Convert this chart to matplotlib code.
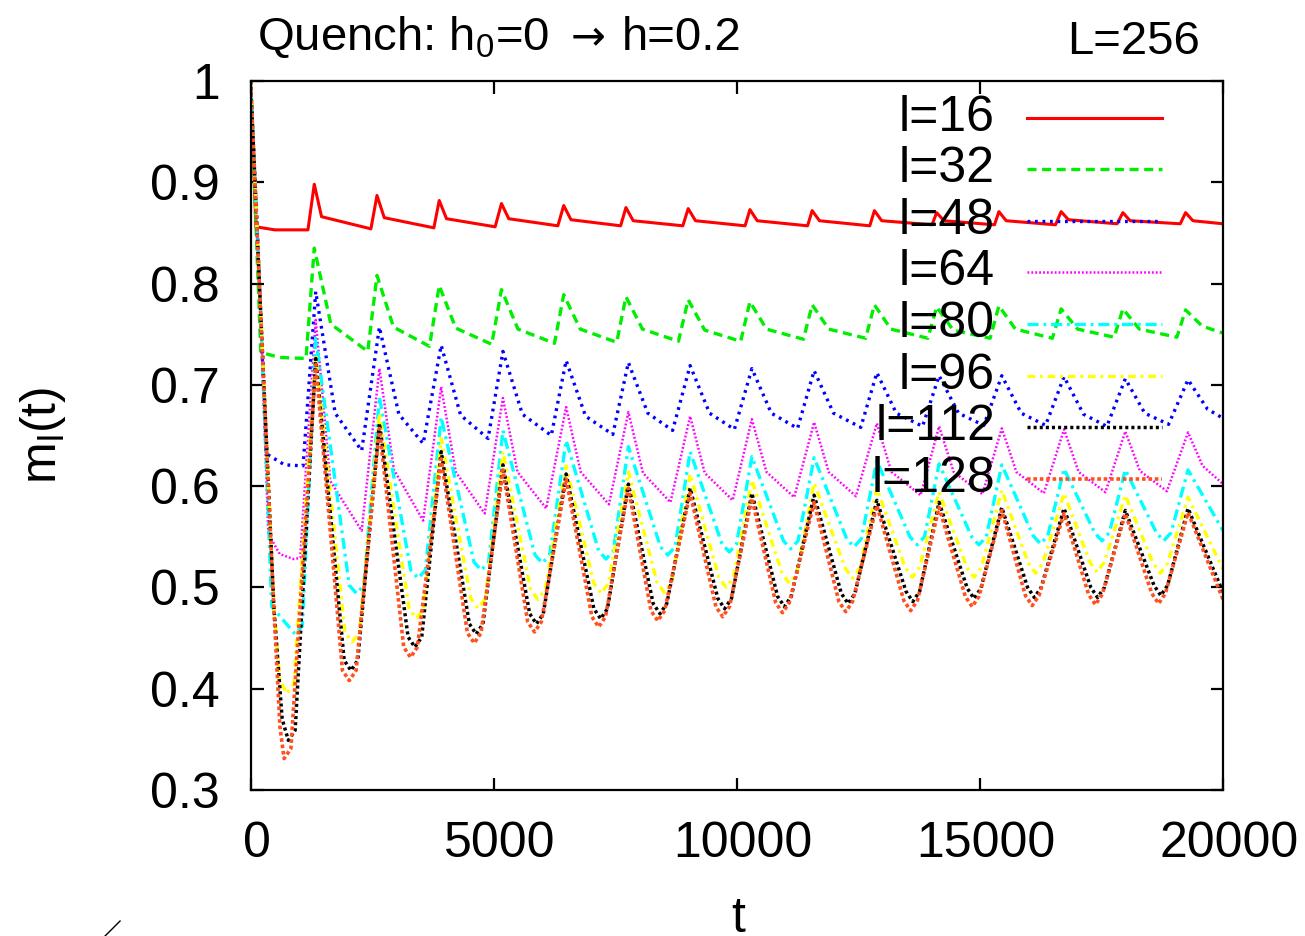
import matplotlib
matplotlib.use('Agg')
from matplotlib import pyplot as plt
from matplotlib.lines import Line2D
from matplotlib.transforms import ScaledTranslation

plt.rcParams['font.family'] = ['Liberation Sans', 'DejaVu Sans']
plt.rcParams['mathtext.fontset'] = 'custom'
plt.rcParams['mathtext.rm'] = 'Liberation Sans'
plt.rcParams['mathtext.it'] = 'Liberation Sans'
plt.rcParams['lines.scale_dashes'] = False

# peak times
t_peak_a = [1310, 2600, 3880, 5160, 6440, 7720, 9000, 10270, 11550, 12830, 14110, 15390, 16670, 17940, 19230]
t_peak_b = [1340, 2650, 3920, 5190, 6490, 7770, 9040, 10310, 11590, 12880, 14160, 15450, 16730, 17990, 19280]

# l=16
init16 = [(0, 1.0), (110, 0.856), (500, 0.853)]
low16_t = [1180, 2475, 3770, 5030, 6320, 7610, 8890, 10170, 11455, 12735, 14015, 15300, 16555, 17820, 19120]
low16 = [0.853, 0.854, 0.855, 0.856, 0.857, 0.857, 0.857, 0.857, 0.857, 0.857, 0.858, 0.858, 0.858, 0.859, 0.859]
peak16 = [0.898, 0.887, 0.882, 0.879, 0.877, 0.875, 0.874, 0.873, 0.872, 0.872, 0.870, 0.871, 0.871, 0.870, 0.870]
knee16 = [0.866, 0.865, 0.864, 0.864, 0.863, 0.862, 0.862, 0.862, 0.862, 0.862, 0.862, 0.862, 0.863, 0.862, 0.862]
end16 = 0.859

# l=32
init32 = [(0, 1.0), (210, 0.732), (600, 0.727)]
low32_t = [1140, 2410, 3680, 4960, 6250, 7530, 8800, 10080, 11370, 12650, 13930, 15210, 16490, 17760, 19050]
low32 = [0.726, 0.733, 0.738, 0.740, 0.741, 0.742, 0.743, 0.743, 0.745, 0.746, 0.746, 0.746, 0.746, 0.747, 0.747]
peak32 = [0.835, 0.808, 0.798, 0.794, 0.789, 0.787, 0.784, 0.782, 0.779, 0.779, 0.777, 0.778, 0.775, 0.775, 0.774]
knee32 = [0.760, 0.757, 0.756, 0.755, 0.755, 0.755, 0.754, 0.755, 0.755, 0.755, 0.754, 0.755, 0.755, 0.755, 0.758]
end32 = 0.751

# l=48
init48 = [(0, 1.0), (150, 0.84), (320, 0.632), (700, 0.621)]
low48_t = [1080, 2285, 3550, 4885, 6185, 7450, 8680, 9950, 11250, 12550, 13820, 15080, 16350, 17610, 18880]
low48 = [0.620, 0.635, 0.642, 0.647, 0.650, 0.651, 0.655, 0.656, 0.657, 0.658, 0.659, 0.660, 0.660, 0.659, 0.661]
peak48 = [0.792, 0.757, 0.739, 0.733, 0.724, 0.722, 0.719, 0.716, 0.714, 0.712, 0.709, 0.709, 0.708, 0.706, 0.705]
knee48 = [0.672, 0.671, 0.670, 0.671, 0.669, 0.672, 0.672, 0.672, 0.672, 0.672, 0.672, 0.672, 0.671, 0.672, 0.676]
end48 = 0.667

# l=64
init64 = [(0, 1.0), (200, 0.78), (365, 0.553), (600, 0.533), (880, 0.528)]
low64_t = [1020, 2285, 3550, 4815, 6080, 7370, 8635, 9915, 11180, 12450, 13780, 15050, 16315, 17580, 18845]
low64 = [0.529, 0.556, 0.566, 0.573, 0.578, 0.582, 0.584, 0.586, 0.589, 0.590, 0.591, 0.592, 0.593, 0.594, 0.595]
peak64 = [0.764, 0.716, 0.698, 0.687, 0.678, 0.673, 0.669, 0.666, 0.663, 0.662, 0.659, 0.657, 0.656, 0.654, 0.653]
knee64 = [0.605, 0.616, 0.614, 0.614, 0.614, 0.613, 0.613, 0.614, 0.614, 0.614, 0.614, 0.614, 0.614, 0.615, 0.620]
end64 = 0.602

# l=80
init80 = [(0, 1.0), (200, 0.78), (435, 0.481)]
min80_t = [915, 2180, 3445, 4745, 6000, 7310, 8580, 9845, 11110, 12410, 13710, 14980, 16245, 17510, 18780]
min80 = [0.454, 0.494, 0.509, 0.517, 0.524, 0.528, 0.532, 0.535, 0.538, 0.540, 0.542, 0.542, 0.543, 0.546, 0.546]
peak80 = [0.746, 0.688, 0.668, 0.655, 0.645, 0.639, 0.634, 0.629, 0.628, 0.625, 0.622, 0.621, 0.617, 0.616, 0.616]
end80 = 0.556

# l=96
init96 = [(0, 1.0), (200, 0.78), (480, 0.48), (600, 0.41)]
min96_t = [740, 2090, 3410, 4680, 5910, 7210, 8510, 9780, 11080, 12380, 13610, 14880, 16145, 17410, 18710]
min96 = [0.395, 0.446, 0.469, 0.479, 0.488, 0.494, 0.495, 0.500, 0.504, 0.509, 0.510, 0.510, 0.514, 0.515, 0.514]
peak96 = [0.730, 0.672, 0.647, 0.634, 0.620, 0.614, 0.612, 0.606, 0.603, 0.598, 0.594, 0.596, 0.593, 0.591, 0.589]
end96 = 0.518

# l=112
init112 = [(0, 1.0), (200, 0.78), (480, 0.48), (650, 0.37)]
min112_t = [777, 2065, 3380, 4640, 5880, 7200, 8420, 9750, 10980, 12290, 13620, 14880, 16120, 17420, 18720]
min112 = [0.349, 0.418, 0.441, 0.454, 0.464, 0.469, 0.474, 0.479, 0.481, 0.484, 0.486, 0.489, 0.490, 0.490, 0.492]
peak112 = [0.726, 0.662, 0.634, 0.621, 0.612, 0.602, 0.598, 0.593, 0.591, 0.586, 0.584, 0.579, 0.578, 0.576, 0.578]
end112 = 0.495

# l=128
init128 = [(0, 1.0), (195, 0.784), (470, 0.487), (605, 0.362)]
min128_t = [690, 2030, 3290, 4600, 5840, 7160, 8375, 9710, 10940, 12240, 13575, 14840, 16075, 17375, 18675]
min128 = [0.331, 0.408, 0.431, 0.445, 0.456, 0.461, 0.467, 0.471, 0.475, 0.476, 0.477, 0.481, 0.482, 0.483, 0.484]
peak128 = [0.720, 0.657, 0.627, 0.616, 0.607, 0.598, 0.593, 0.588, 0.584, 0.581, 0.579, 0.576, 0.573, 0.573, 0.574]
end128 = 0.488

# how wide and how high the rounded bottoms of the lower curves look
bottom_dt = [150, 150, 140, 140]
bottom_dm = [0.008, 0.010, 0.010, 0.010]

labels = ['l=16', 'l=32', 'l=48', 'l=64', 'l=80', 'l=96', 'l=112', 'l=128']
colors = ['#ff0000', '#00ee00', '#0000ff', '#ff00ff', '#00ffff', '#ffff00', '#000000', '#ff5020']
dashes = [None, (6.5, 4.0), (2.0, 3.4), (1.3, 1.5), (8.0, 3.5, 2.0, 3.5), (5.5, 3.5, 2.0, 3.5), (2.2, 2.2), (2.6, 2.0)]
widths = [2.2, 2.4, 2.4, 1.8, 2.4, 2.4, 2.5, 2.6]


def upper(init, low_t, low, t_pk, pk, kn, dt, end):
    ts = [p[0] for p in init]
    ms = [p[1] for p in init]
    for i in range(len(low_t)):
        ts += [low_t[i], t_pk[i], t_pk[i] + dt]
        ms += [low[i], pk[i], kn[i]]
    ts.append(20000)
    ms.append(end)
    return ts, ms


def lower(init, min_t, mn, t_pk, pk, end, bdt, bdm):
    ts = [p[0] for p in init]
    ms = [p[1] for p in init]
    for i in range(len(min_t)):
        if i > 0:
            ts.append(min_t[i] - bdt)
            ms.append(mn[i] + bdm)
        ts += [min_t[i], min_t[i] + bdt, t_pk[i]]
        ms += [mn[i], mn[i] + bdm, pk[i]]
    ts.append(20000)
    ms.append(end)
    return ts, ms


series = [
    upper(init16, low16_t, low16, t_peak_a, peak16, knee16, 150, end16),
    upper(init32, low32_t, low32, t_peak_a, peak32, knee32, 340, end32),
    upper(init48, low48_t, low48, t_peak_b, peak48, knee48, 400, end48),
    upper(init64, low64_t, low64, t_peak_b, peak64, knee64, 300, end64),
    lower(init80, min80_t, min80, t_peak_b, peak80, end80, bottom_dt[0], bottom_dm[0]),
    lower(init96, min96_t, min96, t_peak_b, peak96, end96, bottom_dt[1], bottom_dm[1]),
    lower(init112, min112_t, min112, t_peak_b, peak112, end112, bottom_dt[2], bottom_dm[2]),
    lower(init128, min128_t, min128, t_peak_b, peak128, end128, bottom_dt[3], bottom_dm[3]),
]

fs = 36

fig = plt.figure(figsize=(13.05, 9.36), dpi=100)
ax = fig.add_axes([0.192, 0.156, 0.7452, 0.7575])

for i, (ts, ms) in enumerate(series):
    line, = ax.plot(ts, ms, color=colors[i], lw=widths[i])
    if dashes[i] is not None:
        line.set_dashes(dashes[i])

ax.set_xlim(0, 20000)
ax.set_ylim(0.3, 1.0)
ax.set_xticks([0, 5000, 10000, 15000, 20000])
ax.set_yticks([0.3, 0.4, 0.5, 0.6, 0.7, 0.8, 0.9, 1.0])
ax.set_yticklabels(['0.3', '0.4', '0.5', '0.6', '0.7', '0.8', '0.9', '1'])
ax.tick_params(direction='in', length=9, width=1.6, top=True, right=True,
               labelsize=fs, pad=22)
shift = ScaledTranslation(0.06, 0, fig.dpi_scale_trans)
for lab in ax.get_xticklabels():
    lab.set_transform(lab.get_transform() + shift)
for s in ax.spines.values():
    s.set_linewidth(1.6)

# key, gnuplot style: text right-aligned then sample
for i in range(len(labels)):
    y = 0.948 - i * 0.0727
    ax.text(0.7656, y, labels[i], transform=ax.transAxes, ha='right', va='center', fontsize=fs)
    sample = Line2D([0.7985, 0.9373], [y, y], transform=ax.transAxes, color=colors[i], lw=widths[i])
    if dashes[i] is not None:
        sample.set_dashes(dashes[i])
    ax.add_line(sample)

fig.text(0.1969, 0.947, 'Quench: h$_0$=0', ha='left', va='baseline', fontsize=34)
fig.text(0.4506, 0.947, '\u2192', ha='center', va='baseline', fontsize=30, family='DejaVu Sans')
fig.text(0.4766, 0.947, 'h=0.2', ha='left', va='baseline', fontsize=34)
fig.text(0.9195, 0.942, 'L=256', ha='right', va='baseline', fontsize=34)
fig.text(0.033, 0.535, r'm$_\mathrm{l}$(t)', rotation=90, ha='center', va='center', fontsize=fs)
fig.text(0.5655, 0.004, 't', ha='center', va='baseline', fontsize=fs)
fig.add_artist(Line2D([0.0805, 0.092], [0.0, 0.016], transform=fig.transFigure, color='black', lw=1.0))

fig.savefig('out.png', dpi=100)
